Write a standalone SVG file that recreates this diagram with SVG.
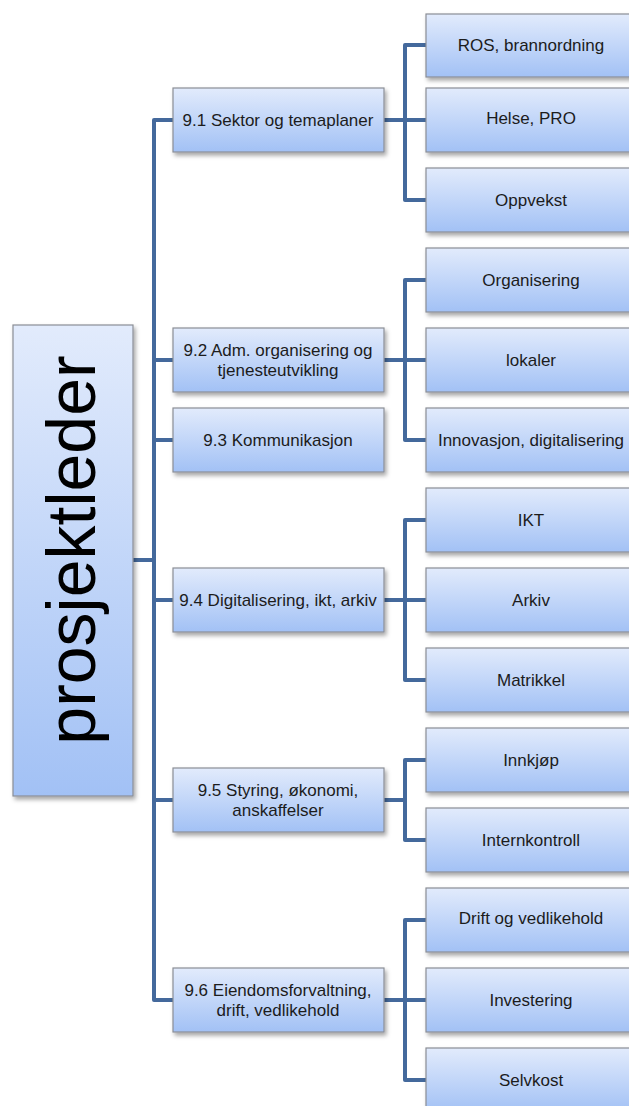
<svg xmlns="http://www.w3.org/2000/svg" width="629" height="1106" viewBox="0 0 629 1106">
<defs>
<linearGradient id="g" x1="0" y1="0" x2="0" y2="1">
<stop offset="0" stop-color="#e2ebfc"/>
<stop offset="1" stop-color="#a2c1f5"/>
</linearGradient>
<filter id="sh" x="-10%" y="-10%" width="130%" height="140%">
<feDropShadow dx="2" dy="3" stdDeviation="2" flood-color="#000" flood-opacity="0.35"/>
</filter>
<style>
.box{fill:url(#g);stroke:#8a8e96;stroke-width:1.2;filter:url(#sh)}
.t{font-family:"Liberation Sans",Arial,sans-serif;font-size:17px;fill:#1c1c1c;text-anchor:middle}
.root{font-family:"Liberation Sans",Arial,sans-serif;font-size:68px;fill:#000;text-anchor:middle}
.c{fill:none;stroke:#44699c;stroke-width:4;stroke-linejoin:round}
</style>
</defs>
<rect width="629" height="1106" fill="#fff"/>
<g id="connectors" class="c">
<path d="M133,560 H154"/>
<path d="M173,120 H154 V1000 H173"/>
<path d="M154,360 H173 M154,440 H173 M154,600 H173 M154,800 H173"/>
<path d="M384,120 H426 M426,45 H405 V200 H426"/>
<path d="M384,360 H426 M426,280 H405 V440 H426"/>
<path d="M384,600 H426 M426,520 H405 V680 H426"/>
<path d="M384,800 H405 M426,760 H405 V840 H426"/>
<path d="M384,1000 H426 M426,920 H405 V1080 H426"/>
</g>
<g id="root"><rect class="box" x="13" y="325" width="120" height="471"/><text class="root" transform="translate(95,550) rotate(-90)">prosjektleder</text></g>
<g id="n91"><rect class="box" x="173" y="88" width="211" height="64"/><text class="t" x="278" y="126">9.1 Sektor og temaplaner</text></g>
<g id="n92"><rect class="box" x="173" y="328" width="211" height="64"/><text class="t" x="278" y="356">9.2 Adm. organisering og</text><text class="t" x="278" y="376">tjenesteutvikling</text></g>
<g id="n93"><rect class="box" x="173" y="408" width="211" height="64"/><text class="t" x="278" y="446">9.3 Kommunikasjon</text></g>
<g id="n94"><rect class="box" x="173" y="568" width="211" height="64"/><text class="t" x="278" y="606">9.4 Digitalisering, ikt, arkiv</text></g>
<g id="n95"><rect class="box" x="173" y="768" width="211" height="64"/><text class="t" x="278" y="796">9.5 Styring, økonomi,</text><text class="t" x="278" y="816">anskaffelser</text></g>
<g id="n96"><rect class="box" x="173" y="968" width="211" height="64"/><text class="t" x="278" y="996">9.6 Eiendomsforvaltning,</text><text class="t" x="278" y="1016">drift, vedlikehold</text></g>
<g id="ros"><rect class="box" x="426" y="14" width="211" height="63"/><text class="t" x="531" y="51">ROS, brannordning</text></g>
<g id="helse"><rect class="box" x="426" y="88" width="211" height="64"/><text class="t" x="531" y="124">Helse, PRO</text></g>
<g id="oppvekst"><rect class="box" x="426" y="168" width="211" height="64"/><text class="t" x="531" y="206">Oppvekst</text></g>
<g id="organisering"><rect class="box" x="426" y="248" width="211" height="64"/><text class="t" x="531" y="286">Organisering</text></g>
<g id="lokaler"><rect class="box" x="426" y="328" width="211" height="64"/><text class="t" x="531" y="366">lokaler</text></g>
<g id="innovasjon"><rect class="box" x="426" y="408" width="211" height="64"/><text class="t" x="531" y="446">Innovasjon, digitalisering</text></g>
<g id="ikt"><rect class="box" x="426" y="488" width="211" height="64"/><text class="t" x="531" y="526">IKT</text></g>
<g id="arkiv"><rect class="box" x="426" y="568" width="211" height="64"/><text class="t" x="531" y="606">Arkiv</text></g>
<g id="matrikkel"><rect class="box" x="426" y="648" width="211" height="64"/><text class="t" x="531" y="686">Matrikkel</text></g>
<g id="innkjop"><rect class="box" x="426" y="728" width="211" height="64"/><text class="t" x="531" y="766">Innkjøp</text></g>
<g id="internkontroll"><rect class="box" x="426" y="808" width="211" height="64"/><text class="t" x="531" y="846">Internkontroll</text></g>
<g id="drift"><rect class="box" x="426" y="888" width="211" height="64"/><text class="t" x="531" y="924">Drift og vedlikehold</text></g>
<g id="investering"><rect class="box" x="426" y="968" width="211" height="64"/><text class="t" x="531" y="1006">Investering</text></g>
<g id="selvkost"><rect class="box" x="426" y="1048" width="211" height="64"/><text class="t" x="531" y="1086">Selvkost</text></g>
</svg>
